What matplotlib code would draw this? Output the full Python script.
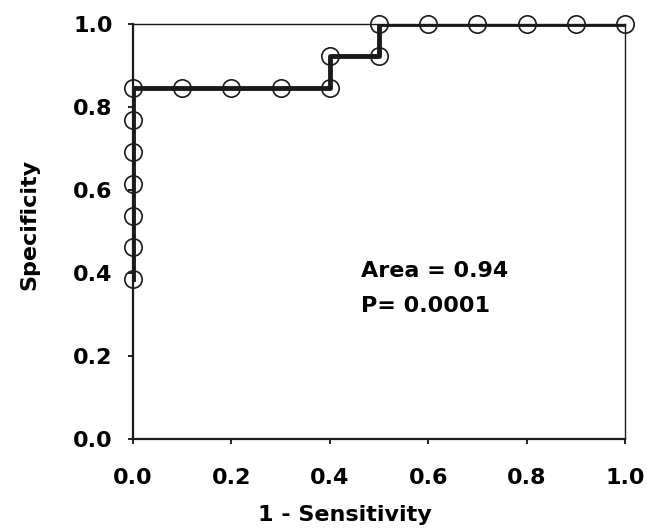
import matplotlib
matplotlib.use("Agg")
import matplotlib.pyplot as plt

plt.rcParams['font.family'] = ['DejaVu Sans']
plt.rcParams['font.weight'] = 'bold'

# ROC points (1 - sensitivity, specificity)
fpr = [0.0, 0.0, 0.0, 0.0, 0.0, 0.0, 0.0, 0.1, 0.2, 0.3, 0.4, 0.4, 0.5, 0.5, 0.6, 0.7, 0.8, 0.9, 1.0]
spec = [0.385, 0.462, 0.538, 0.615, 0.692, 0.769, 0.846, 0.846, 0.846, 0.846, 0.846, 0.923,
        0.923, 1.0, 1.0, 1.0, 1.0, 1.0, 1.0]
ticks = [0.0, 0.2, 0.4, 0.6, 0.8, 1.0]
tick_labels = ['0.0', '0.2', '0.4', '0.6', '0.8', '1.0']

fig = plt.figure(figsize=(6.47, 5.32), dpi=100)
ax = fig.add_axes([0.2056, 0.1748, 0.7604, 0.7802])

ax.plot(fpr, spec, color='#1a1a1a', lw=3.5, zorder=2)
ax.plot(fpr, spec, ls='none', marker='o', ms=12.5, mfc='none', mec='#1a1a1a',
        mew=1.2, zorder=3, clip_on=False)

ax.set_xlim(0, 1)
ax.set_ylim(0, 1)
ax.set_xticks(ticks)
ax.set_xticklabels(tick_labels)
ax.set_yticks(ticks)
ax.set_yticklabels(tick_labels)
ax.tick_params(direction='out', length=3.6, width=1.2, labelsize=16)
ax.tick_params(axis='x', pad=17)
ax.tick_params(axis='y', pad=11)
for s in ax.spines.values():
    s.set_linewidth(1.0)
    s.set_color('#1a1a1a')
ax.spines['left'].set_linewidth(1.6)
ax.spines['bottom'].set_linewidth(1.6)

ax.set_xlabel('1 - Sensitivity', fontsize=16, fontweight='bold')
ax.set_ylabel('Specificity', fontsize=16, fontweight='bold')
ax.xaxis.set_label_coords(0.431, -0.158)
ax.yaxis.set_label_coords(-0.19, 0.518)

ax.text(0.464, 0.390, 'Area = 0.94', fontsize=16, fontweight='bold', va='baseline')
ax.text(0.464, 0.306, 'P= 0.0001', fontsize=16, fontweight='bold', va='baseline')

fig.savefig('out.png', dpi=100)
